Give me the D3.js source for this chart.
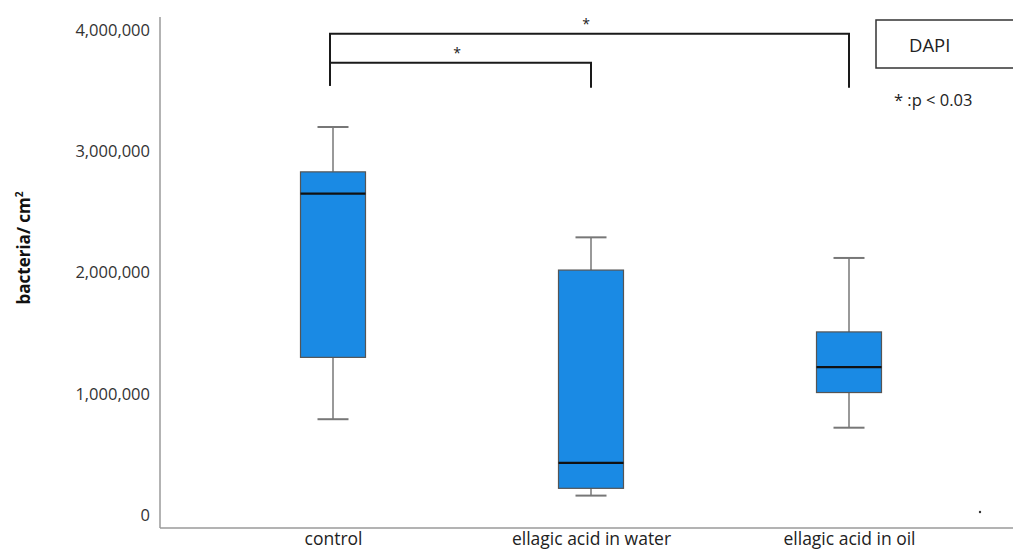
<!DOCTYPE html>
<html>
<head>
<meta charset="utf-8">
<script src="https://cdn.jsdelivr.net/npm/d3@7"></script>
<style>
  body { margin: 0; background: #fff; }
  svg { display: block; font-family: "Open Sans", "Noto Sans", sans-serif; }
</style>
</head>
<body>
<div id="chart-holder"></div>
<script>
// groups and the five-number summaries
const categories = ["control", "ellagic acid in water", "ellagic acid in oil"];
const whiskerLow  = [790000, 160000, 720000];
const q1          = [1300000, 220000, 1010000];
const median      = [2650000, 430000, 1220000];
const q3          = [2830000, 2020000, 1510000];
const whiskerHigh = [3200000, 2290000, 2120000];

const yTicks = [0, 1000000, 2000000, 3000000, 4000000];

// significance brackets: from group, to group, bar height, leg bottom
const brackets = [
    {from: "control", to: "ellagic acid in oil", top: 3970000, bottom: 3540000},
    {from: "control", to: "ellagic acid in water", top: 3730000, bottom: 3540000}
];

const WIDTH = 1013;
const HEIGHT = 553;
const BOX_WIDTH = 65;
const CAP_WIDTH = 31;

const svg = d3.select("#chart-holder").append("svg")
    .attr("width", WIDTH)
    .attr("height", HEIGHT);

const x = d3.scalePoint()
    .domain(categories)
    .range([204, 978])
    .padding(0.5);

const y = d3.scaleLinear()
    .domain([0, 4000000])
    .range([515, 30]);

// axis frame (left and bottom only, no ticks)
svg.append("line")
    .attr("x1", 160).attr("x2", 160)
    .attr("y1", 17).attr("y2", 528)
    .attr("stroke", "#9a9a9a").attr("stroke-width", 1.5);
svg.append("line")
    .attr("x1", 160).attr("x2", WIDTH)
    .attr("y1", 528).attr("y2", 528)
    .attr("stroke", "#9a9a9a").attr("stroke-width", 1.5);

const yAxis = d3.axisLeft(y)
    .tickValues(yTicks)
    .tickSize(0)
    .tickPadding(10)
    .tickFormat(d3.format(","));

const yg = svg.append("g")
    .attr("transform", "translate(160,0)")
    .call(yAxis);
yg.select(".domain").remove();
yg.selectAll("text")
    .attr("font-size", 16.5)
    .attr("fill", "#333")
    .style("font-family", "'Open Sans', sans-serif");

const xAxis = d3.axisBottom(x).tickSize(0).tickPadding(5);
const xg = svg.append("g")
    .attr("transform", "translate(0,528)")
    .call(xAxis);
xg.select(".domain").remove();
xg.selectAll("text")
    .attr("font-size", 17.5)
    .attr("fill", "#222")
    .attr("font-weight", 500)
    .style("font-family", "'Open Sans', sans-serif");

// y title
svg.append("text")
    .attr("transform", "translate(30,248) rotate(-90)")
    .attr("text-anchor", "middle")
    .attr("font-size", 17)
    .attr("font-weight", "bold")
    .attr("fill", "#111")
    .html('bacteria/ cm<tspan dy="-7" font-size="10">2</tspan>');

// boxes
const boxes = svg.append("g")
    .selectAll("g")
    .data(categories.map((c, i) => ({
        cat: c, lo: whiskerLow[i], q1: q1[i], med: median[i], q3: q3[i], hi: whiskerHigh[i]
    })))
    .enter().append("g")
    .attr("transform", d => `translate(${x(d.cat)},0)`);

boxes.append("line")
    .attr("x1", 0).attr("x2", 0)
    .attr("y1", d => y(d.hi)).attr("y2", d => y(d.q3))
    .attr("stroke", "#777").attr("stroke-width", 1.5);
boxes.append("line")
    .attr("x1", 0).attr("x2", 0)
    .attr("y1", d => y(d.q1)).attr("y2", d => y(d.lo))
    .attr("stroke", "#777").attr("stroke-width", 1.5);
boxes.append("line")
    .attr("x1", -CAP_WIDTH / 2).attr("x2", CAP_WIDTH / 2)
    .attr("y1", d => y(d.hi)).attr("y2", d => y(d.hi))
    .attr("stroke", "#777").attr("stroke-width", 2);
boxes.append("line")
    .attr("x1", -CAP_WIDTH / 2).attr("x2", CAP_WIDTH / 2)
    .attr("y1", d => y(d.lo)).attr("y2", d => y(d.lo))
    .attr("stroke", "#777").attr("stroke-width", 2);

boxes.append("rect")
    .attr("x", -BOX_WIDTH / 2)
    .attr("width", BOX_WIDTH)
    .attr("y", d => y(d.q3))
    .attr("height", d => y(d.q1) - y(d.q3))
    .attr("fill", "#1a8ae4")
    .attr("stroke", "#555")
    .attr("stroke-width", 1.2);

boxes.append("line")
    .attr("x1", -BOX_WIDTH / 2).attr("x2", BOX_WIDTH / 2)
    .attr("y1", d => y(d.med)).attr("y2", d => y(d.med))
    .attr("stroke", "#111").attr("stroke-width", 2.2);

// significance brackets
const br = svg.append("g");
br.selectAll("path")
    .data(brackets)
    .enter().append("path")
    .attr("d", d => `M${x(d.from) - 3},${y(d.bottom)}V${y(d.top)}H${x(d.to)}V${y(d.bottom) + 2}`)
    .attr("fill", "none")
    .attr("stroke", "#1a1a1a")
    .attr("stroke-width", 2);
br.selectAll("text")
    .data(brackets)
    .enter().append("text")
    .attr("x", d => (x(d.from) + x(d.to)) / 2 - 5)
    .attr("y", d => y(d.top) - 5)
    .attr("text-anchor", "middle")
    .attr("font-size", 14)
    .attr("fill", "#222")
    .text("*");

// legend box
svg.append("rect")
    .attr("x", 876).attr("y", 20)
    .attr("width", 150).attr("height", 48)
    .attr("fill", "#fff")
    .attr("stroke", "#333").attr("stroke-width", 1.5);
svg.append("text")
    .attr("x", 909).attr("y", 52)
    .attr("font-size", 18.5)
    .attr("fill", "#222")
    .text("DAPI");
svg.append("text")
    .attr("x", 894).attr("y", 106)
    .attr("font-size", 16.5)
    .attr("fill", "#222")
    .text("* :p < 0.03");

// stray dot in the original figure
svg.append("circle")
    .attr("cx", 980).attr("cy", 512).attr("r", 1.2)
    .attr("fill", "#333");
</script>
</body>
</html>
